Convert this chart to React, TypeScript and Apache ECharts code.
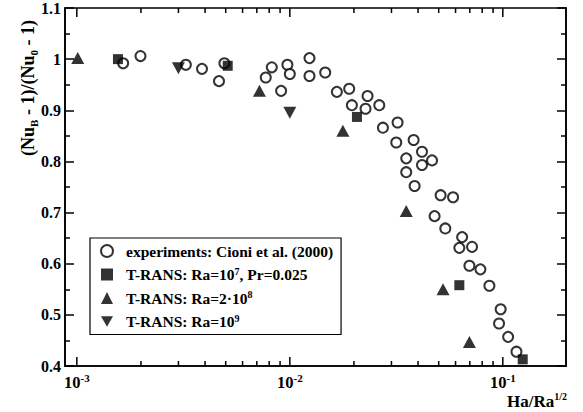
import React, { useEffect, useRef } from "react";
import * as echarts from "echarts";

// ---- data ----
const expX = [0.00165, 0.00199, 0.00325, 0.00387, 0.00465, 0.00493, 0.00771, 0.00823, 0.0091, 0.00974, 0.0100,
  0.01237, 0.01237, 0.01466, 0.01663, 0.0190, 0.01956, 0.02317, 0.02267, 0.0263, 0.02736, 0.03206, 0.0316,
  0.03813, 0.0352, 0.04174, 0.04174, 0.04652, 0.0352, 0.03854, 0.05105, 0.0584, 0.04783, 0.0537, 0.0644,
  0.0625, 0.0717, 0.0697, 0.0785, 0.0865, 0.0977, 0.0960, 0.1059, 0.1159];
const expY = [0.992, 1.006, 0.989, 0.981, 0.957, 0.992, 0.964, 0.984, 0.938, 0.989, 0.971,
  1.002, 0.967, 0.974, 0.936, 0.942, 0.910, 0.928, 0.903, 0.910, 0.866, 0.876, 0.837,
  0.842, 0.806, 0.819, 0.793, 0.802, 0.779, 0.752, 0.734, 0.730, 0.693, 0.669, 0.652,
  0.631, 0.633, 0.596, 0.589, 0.557, 0.511, 0.483, 0.457, 0.428];

const ra7X = [0.00156, 0.00511, 0.02066, 0.0625, 0.124];
const ra7Y = [1.0, 0.987, 0.887, 0.558, 0.413];

const ra2e8X = [0.00101, 0.0072, 0.01775, 0.0352, 0.0524, 0.0697];
const ra2e8Y = [1.002, 0.938, 0.860, 0.703, 0.550, 0.447];

const ra9X = [0.0030, 0.0100];
const ra9Y = [0.982, 0.895];

const xMajorTicks = [0.001, 0.01, 0.1];
const xMinorTicks = [0.002, 0.003, 0.004, 0.005, 0.006, 0.007, 0.008, 0.009,
  0.02, 0.03, 0.04, 0.05, 0.06, 0.07, 0.08, 0.09];

const X_MIN = 0.00088;
const X_MAX = 0.198;
const Y_MIN = 0.4;
const Y_MAX = 1.1;

const seriesNames = [
  "experiments: Cioni et al. (2000)",
  "T-RANS: Ra=10^7, Pr=0.025",
  "T-RANS: Ra=2·10^8",
  "T-RANS: Ra=10^9",
];
const legendRich: Record<string, string> = {
  [seriesNames[0]]: "{gap| }{main|experiments: Cioni et al. (2000)}",
  [seriesNames[1]]: "{gap| }{main|T-RANS: Ra=10}{sup|7}{main|, Pr=0.025}",
  [seriesNames[2]]: "{gap| }{main|T-RANS: Ra=2·10}{sup|8}",
  [seriesNames[3]]: "{gap| }{main|T-RANS: Ra=10}{sup|9}",
};

const FONT = "Liberation Serif";

const zip = (xs: number[], ys: number[]) => xs.map((x, i) => [x, ys[i]]);

export default function App() {
  const ref = useRef<HTMLDivElement>(null);
  useEffect(() => {
    if (!ref.current) return;
    const chart = echarts.init(ref.current, undefined, { renderer: "svg" });
    const tickData = [
      ...xMajorTicks.map((v) => [v, 9]),
      ...xMinorTicks.map((v) => [v, 5]),
    ];
    const yAxisBase = {
      type: "value",
      min: Y_MIN,
      max: Y_MAX,
      interval: 0.1,
      axisLine: { show: true, lineStyle: { color: "#000", width: 1.6 } },
      axisTick: { show: true, inside: true, length: 9, lineStyle: { color: "#000", width: 1.5 } },
      minorTick: { show: true, splitNumber: 2, length: 5, lineStyle: { color: "#000", width: 1.5 } },
      splitLine: { show: false },
      minorSplitLine: { show: false },
    };
    chart.setOption({
      animation: false,
      backgroundColor: "#fff",
      grid: { left: 65, right: 17, top: 8, bottom: 46, show: true, borderColor: "#000", borderWidth: 1.6, backgroundColor: "transparent" },
      xAxis: {
        type: "log",
        min: X_MIN,
        max: X_MAX,
        axisLine: { show: true, onZero: false, lineStyle: { color: "#000", width: 1.6 } },
        axisTick: { show: false },
        splitLine: { show: false },
        axisLabel: {
          margin: 6,
          showMinLabel: false,
          showMaxLabel: false,
          color: "#000",
          fontFamily: FONT,
          fontWeight: "bold",
          fontSize: 16,
          formatter: (v: number) => {
            const e = Math.log10(v);
            const r = Math.round(e);
            if (Math.abs(e - r) > 1e-6) return "";
            return `{main|10}{sup|${r}}`;
          },
          rich: {
            main: { fontFamily: FONT, fontWeight: "bold", fontSize: 16.5, color: "#000", lineHeight: 20 },
            sup: { fontFamily: FONT, fontWeight: "bold", fontSize: 11, color: "#000", lineHeight: 13, verticalAlign: "top" },
          },
        },
      },
      yAxis: [
        {
          ...yAxisBase,
          position: "left",
          axisLabel: {
            margin: 4,
            color: "#000",
            fontFamily: FONT,
            fontWeight: "bold",
            fontSize: 16,
            formatter: (v: number) => String(Math.round(v * 10) / 10),
          },
        },
        {
          ...yAxisBase,
          position: "right",
          axisLabel: { show: false },
        },
      ],
      legend: {
        data: seriesNames,
        orient: "vertical",
        left: 90,
        top: 238,
        padding: [5, 8, 5, 10],
        itemGap: 7,
        itemWidth: 12,
        itemHeight: 12,
        borderColor: "#000",
        borderWidth: 1.2,
        backgroundColor: "#fff",
        formatter: (name: string) => legendRich[name],
        textStyle: {
          fontFamily: FONT,
          fontWeight: "bold",
          fontSize: 15.5,
          color: "#000",
          rich: {
            gap: { width: 8, fontFamily: FONT, fontSize: 15.5 },
            main: { fontFamily: FONT, fontWeight: "bold", fontSize: 15.5, color: "#000", lineHeight: 17 },
            sup: { fontFamily: FONT, fontWeight: "bold", fontSize: 10, color: "#000", lineHeight: 11, verticalAlign: "top" },
          },
        },
      },
      graphic: [
        {
          type: "text",
          x: 28,
          y: 88,
          rotation: Math.PI / 2,
          style: {
            text: "{main|(Nu}{sub|B}{main| - 1)/(Nu}{sub|0}{main| - 1)}",
            align: "center",
            verticalAlign: "middle",
            fontFamily: FONT,
            fontWeight: "bold",
            fontSize: 18,
            fill: "#000",
            rich: {
              main: { fontFamily: FONT, fontWeight: "bold", fontSize: 18, fill: "#000", lineHeight: 22 },
              sub: { fontFamily: FONT, fontWeight: "bold", fontSize: 11, fill: "#000", lineHeight: 12, verticalAlign: "bottom" },
            },
          },
        },
        {
          type: "text",
          x: 507,
          y: 391,
          style: {
            text: "{main|Ha/Ra}{sup|1/2}",
            align: "left",
            verticalAlign: "top",
            fontFamily: FONT,
            fontWeight: "bold",
            fontSize: 17,
            fill: "#000",
            rich: {
              main: { fontFamily: FONT, fontWeight: "bold", fontSize: 17, fill: "#000", lineHeight: 20 },
              sup: { fontFamily: FONT, fontWeight: "bold", fontSize: 10, fill: "#000", lineHeight: 12, verticalAlign: "top" },
            },
          },
        },
      ],
      series: [
        {
          name: seriesNames[0],
          type: "scatter",
          data: zip(expX, expY),
          symbol: "circle",
          symbolSize: 10,
          itemStyle: { color: "#fff", borderColor: "#000", borderWidth: 2 },
          z: 3,
        },
        {
          name: seriesNames[1],
          type: "scatter",
          data: zip(ra7X, ra7Y),
          symbol: "rect",
          symbolSize: 10,
          itemStyle: { color: "#000" },
          z: 4,
        },
        {
          name: seriesNames[2],
          type: "scatter",
          data: zip(ra2e8X, ra2e8Y),
          symbol: "triangle",
          symbolSize: [13, 12],
          itemStyle: { color: "#000" },
          z: 4,
        },
        {
          name: seriesNames[3],
          type: "scatter",
          data: zip(ra9X, ra9Y),
          symbol: "path://M0,0L2,0L1,1.732Z",
          symbolSize: [13, 12],
          itemStyle: { color: "#000" },
          z: 4,
        },
        {
          name: "xticks",
          type: "custom",
          data: tickData,
          silent: true,
          z: 5,
          renderItem: (_params: any, api: any) => {
            const v = api.value(0);
            const len = api.value(1);
            const b = api.coord([v, Y_MIN]);
            const t = api.coord([v, Y_MAX]);
            return {
              type: "group",
              children: [
                { type: "line", shape: { x1: b[0], y1: b[1], x2: b[0], y2: b[1] - len }, style: { stroke: "#000", lineWidth: 1.5 } },
                { type: "line", shape: { x1: t[0], y1: t[1], x2: t[0], y2: t[1] + len }, style: { stroke: "#000", lineWidth: 1.5 } },
              ],
            };
          },
        },
      ],
    } as any);
    return () => chart.dispose();
  }, []);
  return <div ref={ref} style={{ width: 583, height: 412, position: "absolute", left: 0, top: 0 }} />;
}
